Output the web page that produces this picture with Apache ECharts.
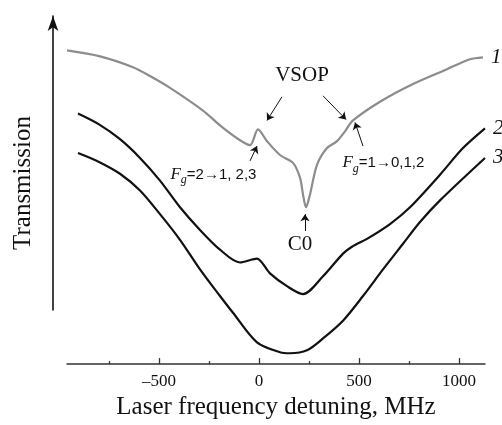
<!DOCTYPE html>
<html>
<head>
<meta charset="utf-8">
<script src="https://cdn.jsdelivr.net/npm/echarts@6/dist/echarts.min.js"></script>
<style>
  html, body { margin: 0; padding: 0; background: #fff; }
  #chart { width: 502px; height: 425px; }
</style>
</head>
<body>
<div id="chart"></div>
<script>
// detuning (MHz) and transmission (arb. units)
const freq1 = [-960, -795, -630, -545, -445, -280, -195, -110, -45, -5, 40, 105, 170, 205, 220, 235, 255, 290, 340, 390, 430, 470, 605, 770, 940, 1055, 1120];
const trans1 = [318, 312, 301, 292, 280, 257, 242, 229, 222, 238, 226, 212, 204, 189, 172, 159, 172, 202, 219, 226, 236, 247, 266, 284, 299, 309, 311];

const freq2 = [-905, -800, -695, -595, -495, -395, -295, -195, -95, -35, -10, 55, 140, 220, 320, 420, 465, 540, 655, 755, 905, 1020, 1130];
const trans2 = [254, 243, 228, 209, 186, 159, 136, 116, 103, 106, 107, 92, 79, 71, 89, 112, 119, 127, 142, 159, 192, 219, 239];

const freq3 = [-905, -800, -695, -595, -495, -395, -295, -195, -130, -10, 105, 155, 240, 320, 420, 520, 620, 720, 805, 905, 1130];
const trans3 = [214, 205, 193, 176, 152, 126, 96, 69, 52, 22, 12, 11, 14, 26, 44, 69, 96, 122, 144, 166, 209];

const majorTicks = [-500, 0, 500, 1000];
const minorTicks = [-750, -250, 250, 750];
const curveNames = ['1', '2', '3'];

const zip = (xs, ys) => xs.map((x, i) => [x, ys[i]]);

const serif = 'Liberation Serif';
const sans = 'Liberation Sans';

// arrows: [from, to] in data coords
const arrows = [
    [[115, 271], [40, 247]],   // VSOP left
    [[320, 272], [435, 248]],  // VSOP right
    [[-45, 206], [-10, 221]],  // Fg=2
    [[520, 221], [480, 245]],  // Fg=1
    [[230, 135], [230, 152]]   // C0
];

const notes = [
    { coord: [215, 293], text: 'VSOP', style: 'big' },
    { coord: [205, 121], text: 'C0', style: 'big' },
    { coord: [-228, 192], text: '{f|F}{g|g}{t|=2→1, 2,3}', style: 'fg' },
    { coord: [622, 204], text: '{f|F}{g|g}{t|=1→0,1,2}', style: 'fg' }
];

const richFg = {
    f: { fontFamily: serif, fontStyle: 'italic', fontSize: 17, color: '#111' },
    g: { fontFamily: serif, fontStyle: 'italic', fontSize: 12, color: '#111', padding: [11, 0, 0, 0] },
    t: { fontFamily: sans, fontSize: 15, color: '#111' }
};

const chart = echarts.init(document.getElementById('chart'));

function lineSeries(idx, xs, ys, color) {
    return {
        type: 'line',
        xAxisIndex: 0,
        yAxisIndex: 0,
        data: zip(xs, ys),
        smooth: 0.3,
        showSymbol: false,
        lineStyle: { color: color, width: 2.2 },
        endLabel: {
            show: true,
            formatter: curveNames[idx],
            fontFamily: serif,
            fontStyle: 'italic',
            fontSize: 21,
            color: '#111',
            distance: 8
        }
    };
}

const s1 = lineSeries(0, freq1, trans1, '#8c8c8c');
s1.markLine = {
    silent: true,
    symbol: ['none', 'arrow'],
    symbolSize: 7,
    label: { show: false },
    lineStyle: { color: '#111', width: 1, type: 'solid' },
    data: arrows.map(a => [{ coord: a[0] }, { coord: a[1] }])
};
s1.markPoint = {
    silent: true,
    symbol: 'circle',
    symbolSize: 0,
    data: notes.map(n => ({
        coord: n.coord,
        label: n.style === 'big'
            ? { show: true, position: 'inside', formatter: n.text, fontFamily: serif, fontSize: 21, color: '#111' }
            : { show: true, position: 'inside', formatter: n.text, rich: richFg }
    }))
};

chart.setOption({
    animation: false,
    grid: [
        { left: 67, right: 17, top: 9, bottom: 56 },
        { left: 53, width: 10, top: 16, height: 294 }
    ],
    xAxis: [
        {
            gridIndex: 0,
            type: 'value',
            position: 'bottom',
            min: -960,
            max: 1130,
            splitLine: { show: false },
            axisLine: { lineStyle: { color: '#333', width: 1.5 } },
            axisTick: { customValues: majorTicks, inside: true, length: 6, lineStyle: { color: '#333', width: 1.3 } },
            axisLabel: {
                customValues: majorTicks,
                margin: 9,
                fontFamily: serif,
                fontSize: 17,
                color: '#111',
                formatter: v => String(v).replace('-', '\u2013')
            },
            name: 'Laser frequency detuning, MHz',
            nameLocation: 'middle',
            nameGap: 30,
            nameTextStyle: { fontFamily: serif, fontSize: 25, color: '#111' }
        },
        {
            // minor ticks
            gridIndex: 0,
            type: 'value',
            position: 'bottom',
            min: -960,
            max: 1130,
            splitLine: { show: false },
            axisLine: { show: false },
            axisTick: { customValues: minorTicks, inside: true, length: 3, lineStyle: { color: '#333', width: 1.3 } },
            axisLabel: { show: false }
        },
        { gridIndex: 1, type: 'value', show: false }
    ],
    yAxis: [
        { gridIndex: 0, type: 'value', min: 0, max: 360, show: false },
        {
            gridIndex: 1,
            type: 'value',
            min: 0,
            max: 1,
            axisLine: { show: true, symbol: ['none', 'arrow'], symbolSize: [8, 15], lineStyle: { color: '#111', width: 1.6 } },
            axisTick: { show: false },
            axisLabel: { show: false },
            splitLine: { show: false }
        }
    ],
    graphic: [{
        type: 'text',
        x: 23,
        y: 183,
        rotation: Math.PI / 2,
        style: {
            text: 'Transmission',
            fontFamily: serif,
            fontSize: 25,
            fill: '#111',
            align: 'center',
            verticalAlign: 'middle'
        }
    }],
    series: [
        s1,
        lineSeries(1, freq2, trans2, '#111'),
        lineSeries(2, freq3, trans3, '#111')
    ]
});
</script>
</body>
</html>
